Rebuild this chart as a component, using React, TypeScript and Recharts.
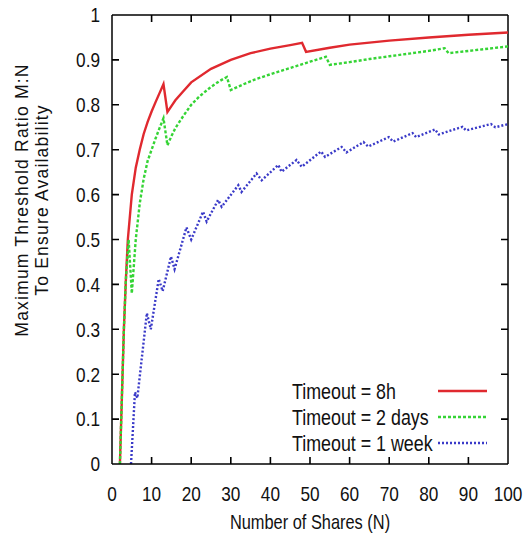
import React from 'react';
import { LineChart, Line, XAxis, YAxis, ReferenceLine } from 'recharts';

const W = 524;
const H = 545;
// plot box, set by the chart margins and axis sizes below
const PLOT = { left: 112, right: 508, top: 15, bottom: 464 };

const xTicks = [0, 10, 20, 30, 40, 50, 60, 70, 80, 90, 100];
const yTicks = [0, 0.1, 0.2, 0.3, 0.4, 0.5, 0.6, 0.7, 0.8, 0.9, 1];

// Timeout = 8h
const shares8h = [2, 2.5, 3, 3.5, 4, 5, 6, 7, 8, 9, 10, 11, 12, 13, 14, 15, 16, 18, 20, 25, 30, 35, 40, 45, 48, 49, 55, 60, 70, 80, 90, 100];
const ratio8h = [0, 0.15, 0.3, 0.41, 0.5, 0.6, 0.66, 0.7, 0.735, 0.762, 0.785, 0.806, 0.826, 0.846, 0.784, 0.797, 0.81, 0.83, 0.85, 0.88, 0.9, 0.915, 0.925, 0.933, 0.938, 0.918, 0.927, 0.934, 0.943, 0.95, 0.956, 0.961];

// Timeout = 2 days
const shares2d = [2, 2.5, 3, 3.5, 4.2, 5, 6, 7, 8, 9, 10, 11, 12, 13, 14, 15, 16, 18, 20, 22, 25, 27, 29, 30, 33, 36, 40, 45, 50, 54, 55, 60, 65, 70, 75, 80, 84, 85, 90, 95, 100];
const ratio2d = [0, 0.15, 0.3, 0.41, 0.5, 0.38, 0.5, 0.58, 0.635, 0.675, 0.7, 0.725, 0.748, 0.77, 0.71, 0.73, 0.748, 0.775, 0.8, 0.818, 0.84, 0.852, 0.862, 0.833, 0.845, 0.856, 0.868, 0.882, 0.896, 0.907, 0.889, 0.895, 0.902, 0.908, 0.914, 0.92, 0.926, 0.915, 0.92, 0.925, 0.93];

// Timeout = 1 week
const shares1w = [4.8, 5.8, 6.4, 8.8, 9.8, 11.8, 12.8, 14.9, 15.8, 18.8, 20, 23, 23.9, 26.8, 27.7, 31.9, 32.7, 36.5, 37.8, 42, 42.8, 46.6, 47.9, 52.8, 53.8, 58, 59.2, 63.5, 64.7, 69.9, 71, 75.9, 76.8, 81.6, 82.5, 88.5, 89.4, 95.7, 96.8, 100];
const ratio1w = [0, 0.16, 0.147, 0.336, 0.3, 0.412, 0.385, 0.462, 0.434, 0.527, 0.5, 0.562, 0.54, 0.588, 0.573, 0.621, 0.606, 0.647, 0.632, 0.666, 0.651, 0.677, 0.662, 0.696, 0.684, 0.706, 0.694, 0.717, 0.707, 0.728, 0.718, 0.737, 0.728, 0.745, 0.734, 0.751, 0.743, 0.757, 0.75, 0.757];

const legendLabels = ['Timeout = 8h', 'Timeout = 2 days', 'Timeout = 1 week'];
const colors = ['#e0292f', '#35d435', '#3a3ac8'];
const dashes = ['0', '3 2', '2 2'];

const toRows = (xs: number[], ys: number[]) => xs.map((n, i) => ({ n, r: ys[i] }));

const FONT = 'Liberation Sans, Arial, sans-serif';
const TICK = 7;

const XTick = (props: any) => {
  const { x, y, payload } = props;
  return (
    <text transform={`translate(${x},${y}) scale(0.82,1)`} textAnchor="middle" dy="0.71em" fontSize={21} fontFamily={FONT} fill="#111">
      {payload.value}
    </text>
  );
};

const YTick = (props: any) => {
  const { x, y, payload } = props;
  return (
    <text transform={`translate(${x},${y}) scale(0.82,1)`} textAnchor="end" dy="0.35em" fontSize={21} fontFamily={FONT} fill="#111">
      {payload.value}
    </text>
  );
};

// axis-tick positions on the frame (decoration only)
const px = (v: number) => PLOT.left + (v / 100) * (PLOT.right - PLOT.left);
const py = (v: number) => PLOT.bottom - v * (PLOT.bottom - PLOT.top);

export default function App() {
  const series = [toRows(shares8h, ratio8h), toRows(shares2d, ratio2d), toRows(shares1w, ratio1w)];
  const axisLine = { stroke: '#000', strokeWidth: 1.5 };

  return (
    <div style={{ position: 'absolute', left: 0, top: 0, width: W, height: H, background: '#fff' }}>
      <LineChart width={W} height={H} margin={{ top: 15, right: 16, bottom: 51, left: 52 }}>
        <XAxis
          dataKey="n"
          type="number"
          domain={[0, 100]}
          ticks={xTicks}
          height={30}
          tickSize={0}
          tickMargin={22}
          tickLine={false}
          tick={<XTick />}
          axisLine={axisLine}
          interval={0}
        />
        <YAxis
          type="number"
          domain={[0, 1]}
          ticks={yTicks}
          width={60}
          tickSize={0}
          tickMargin={12}
          tickLine={false}
          tick={<YTick />}
          axisLine={axisLine}
          interval={0}
        />

        {/* top and right frame */}
        <ReferenceLine y={1} stroke="#000" strokeWidth={1.5} ifOverflow="visible" />
        <ReferenceLine x={100} stroke="#000" strokeWidth={1.5} ifOverflow="visible" />

        {series.map((rows, i) => (
          <Line
            key={legendLabels[i]}
            data={rows}
            dataKey="r"
            type="linear"
            stroke={colors[i]}
            strokeWidth={2.4}
            strokeDasharray={dashes[i]}
            dot={false}
            activeDot={false}
            isAnimationActive={false}
          />
        ))}
      </LineChart>

      <svg width={W} height={H} style={{ position: 'absolute', left: 0, top: 0, pointerEvents: 'none' }}>
        {/* inward tick marks on all four sides */}
        {xTicks.slice(1, -1).map((t) => (
          <path
            key={`x${t}`}
            d={`M${px(t)},${PLOT.bottom} V${PLOT.bottom - TICK} M${px(t)},${PLOT.top} V${PLOT.top + TICK}`}
            stroke="#000"
            strokeWidth={1.6}
            fill="none"
          />
        ))}
        {yTicks.slice(1, -1).map((t) => (
          <path
            key={`y${t}`}
            d={`M${PLOT.left},${py(t)} H${PLOT.left + TICK} M${PLOT.right},${py(t)} H${PLOT.right - TICK}`}
            stroke="#000"
            strokeWidth={1.6}
            fill="none"
          />
        ))}
        {/* y axis title, two rotated lines */}
        <g transform="translate(22,200) rotate(-90)">
          <text textAnchor="middle" dy="0.35em" fontSize={17.5} fontFamily={FONT} letterSpacing={1.2} fill="#111">
            Maximum Threshold Ratio M:N
          </text>
        </g>
        <g transform="translate(42,200) rotate(-90)">
          <text textAnchor="middle" dy="0.35em" fontSize={17.5} fontFamily={FONT} letterSpacing={1.2} fill="#111">
            To Ensure Availability
          </text>
        </g>
        {/* x axis title */}
        <text transform="translate(310,522) scale(0.82,1)" textAnchor="middle" dy="0.35em" fontSize={20} fontFamily={FONT} fill="#111">
          Number of Shares (N)
        </text>
        {/* key */}
        {legendLabels.map((label, i) => (
          <g key={label}>
            <text transform={`translate(292,${391 + i * 26}) scale(0.83,1)`} dy="0.35em" fontSize={21.5} fontFamily={FONT} fill="#111">
              {label}
            </text>
            <line x1={438} x2={487} y1={391 + i * 26} y2={391 + i * 26} stroke={colors[i]} strokeWidth={2.4} strokeDasharray={dashes[i]} />
          </g>
        ))}
      </svg>
    </div>
  );
}
